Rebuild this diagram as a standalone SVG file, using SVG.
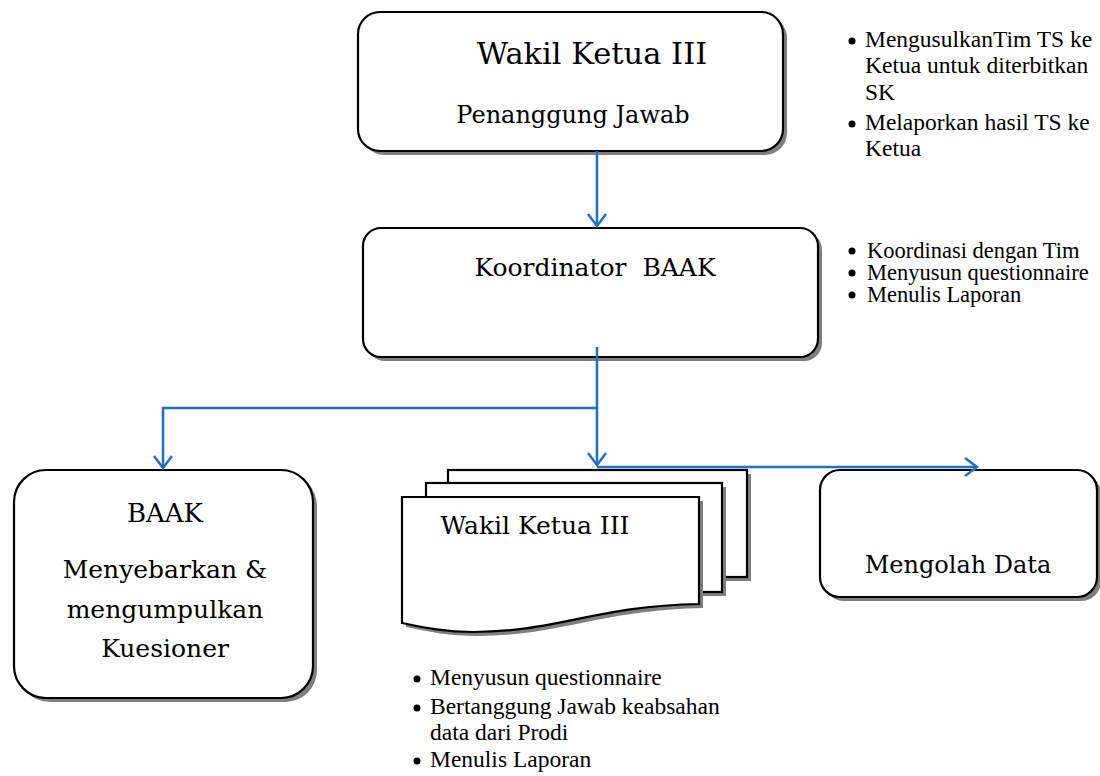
<svg xmlns="http://www.w3.org/2000/svg" width="1100" height="776" viewBox="0 0 1100 776">
<style>
.box{fill:#fff;stroke:#000;stroke-width:2.2}
.sh{fill:#7f7f7f}
.t{font-family:"DejaVu Serif","Liberation Serif",serif;fill:#000;text-anchor:middle}
.b{font-family:"Liberation Serif","Times New Roman",serif;font-size:23.5px;fill:#000}
.bm{font-family:"Liberation Serif","Times New Roman",serif;font-size:22.5px;fill:#000}
.dot{fill:#000}
.c{fill:none;stroke:#1f70c8;stroke-width:2.5}
</style>
<defs>
<marker id="ah" viewBox="0 0 20 20" refX="18" refY="10" markerWidth="20" markerHeight="20" markerUnits="userSpaceOnUse" orient="auto">
<path d="M6,1 L18,10 L6,19" fill="none" stroke="#1f70c8" stroke-width="2.5"/>
</marker>
</defs>

<g id="n-wakil-top">
<rect class="sh" x="362" y="16" width="425" height="139" rx="22"/>
<rect class="box" x="358" y="12" width="425" height="139" rx="22"/>
<text class="t" x="592" y="64" font-size="30.5">Wakil Ketua III</text>
<text class="t" x="573" y="123" font-size="24">Penanggung Jawab</text>
</g>

<g id="n-notes-top">
<circle class="dot" cx="852" cy="41" r="3.5"/>
<text class="b" x="865" y="47">MengusulkanTim TS ke</text>
<text class="b" x="865" y="73">Ketua untuk diterbitkan</text>
<text class="b" x="865" y="100">SK</text>
<circle class="dot" cx="852" cy="124" r="3.5"/>
<text class="b" x="865" y="130">Melaporkan hasil TS ke</text>
<text class="b" x="865" y="156">Ketua</text>
</g>

<g id="n-koordinator">
<rect class="sh" x="367" y="232" width="455" height="129" rx="18"/>
<rect class="box" x="363" y="228" width="455" height="129" rx="18"/>
<text class="t" x="595" y="276" font-size="25" xml:space="preserve">Koordinator  BAAK</text>
</g>

<g id="n-notes-mid">
<circle class="dot" cx="852" cy="251" r="3.5"/>
<text class="bm" x="867" y="258">Koordinasi dengan Tim</text>
<circle class="dot" cx="852" cy="273" r="3.5"/>
<text class="bm" x="867" y="280">Menyusun questionnaire</text>
<circle class="dot" cx="852" cy="295" r="3.5"/>
<text class="bm" x="867" y="302">Menulis Laporan</text>
</g>

<g id="n-baak">
<rect class="sh" x="18" y="474" width="299" height="228" rx="32"/>
<rect class="box" x="14" y="470" width="299" height="228" rx="32"/>
<text class="t" x="165" y="522" font-size="26">BAAK</text>
<text class="t" x="165" y="578" font-size="25">Menyebarkan &amp;</text>
<text class="t" x="165" y="618" font-size="25">mengumpulkan</text>
<text class="t" x="165" y="657" font-size="25">Kuesioner</text>
</g>

<g id="n-wakil-doc">
<rect class="sh" x="452" y="474" width="299" height="107"/>
<rect class="box" x="448" y="470" width="299" height="107"/>
<rect class="sh" x="430" y="487" width="296" height="109"/>
<rect class="box" x="426" y="483" width="296" height="109"/>
<path class="sh" d="M406,501 H703 V608 C600,610 560,636 477,636 C450,636 430,632 406,627 Z"/>
<path class="box" d="M402,497 H699 V604 C596,606 556,632 473,632 C446,632 426,628 402,623 Z"/>
<text class="t" x="535" y="534" font-size="25">Wakil Ketua III</text>
</g>

<g id="n-notes-bottom">
<circle class="dot" cx="417" cy="679" r="3.5"/>
<text class="b" x="430" y="685">Menyusun questionnaire</text>
<circle class="dot" cx="417" cy="708" r="3.5"/>
<text class="b" x="430" y="714">Bertanggung Jawab keabsahan</text>
<text class="b" x="430" y="740">data dari Prodi</text>
<circle class="dot" cx="417" cy="761" r="3.5"/>
<text class="b" x="430" y="767">Menulis Laporan</text>
</g>

<g id="n-mengolah">
<rect class="sh" x="824" y="474" width="277" height="127" rx="20"/>
<rect class="box" x="820" y="470" width="277" height="127" rx="20"/>
<text class="t" x="958" y="573" font-size="24">Mengolah Data</text>
</g>

<g id="connectors">
<path class="c" d="M597,151 V226" marker-end="url(#ah)"/>
<path class="c" d="M597,347 V465" marker-end="url(#ah)"/>
<path class="c" d="M597,408 H163 V468" marker-end="url(#ah)"/>
<path class="c" d="M597,467 H977" marker-end="url(#ah)"/>
</g>
</svg>
